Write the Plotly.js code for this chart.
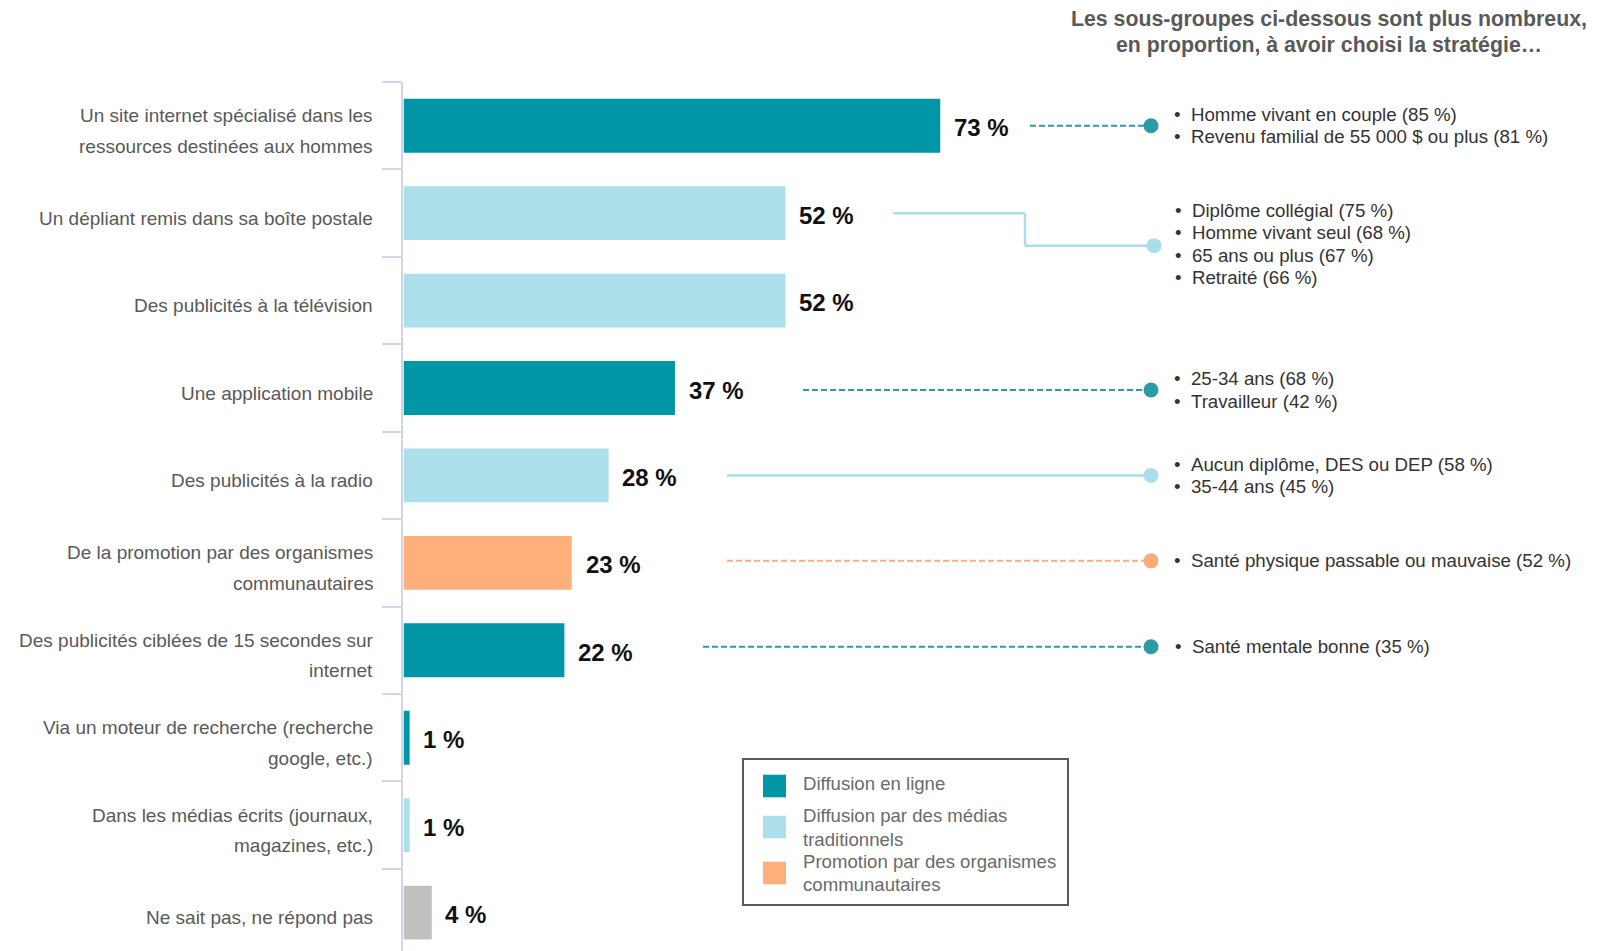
<!DOCTYPE html>
<html>
<head>
<meta charset="utf-8">
<script src="https://cdn.plot.ly/plotly-3.0.1.min.js"></script>
<style>html,body{margin:0;padding:0;background:#fff;}#chart{width:1604px;height:951px;}</style>
</head>
<body>
<div id="chart"></div>
<script>
// ---------- DATA ----------
const categories = [
  "Un site internet spécialisé dans les<br>ressources destinées aux hommes",
  "Un dépliant remis dans sa boîte postale",
  "Des publicités à la télévision",
  "Une application mobile",
  "Des publicités à la radio",
  "De la promotion par des organismes<br>communautaires",
  "Des publicités ciblées de 15 secondes sur<br>internet",
  "Via un moteur de recherche (recherche<br>google, etc.)",
  "Dans les médias écrits (journaux,<br>magazines, etc.)",
  "Ne sait pas, ne répond pas"
];
const values = [73, 52, 52, 37, 28, 23, 22, 1, 1, 4];
const groups = ["ligne", "trad", "trad", "ligne", "trad", "org", "ligne", "ligne", "trad", "nsp"];

const legendLabels = ["Diffusion en ligne", "Diffusion par des médias<br>traditionnels", "Promotion par des organismes<br>communautaires"];
const legendGroups = ["ligne", "trad", "org"];

const titleLines = ["Les sous-groupes ci-dessous sont plus nombreux,", "en proportion, à avoir choisi la stratégie…"];

const subgroupRows = [0, 1, 3, 4, 5, 6];
const subgroupLists = [
  ["Homme vivant en couple (85 %)", "Revenu familial de 55 000 $ ou plus (81 %)"],
  ["Diplôme collégial (75 %)", "Homme vivant seul (68 %)", "65 ans ou plus (67 %)", "Retraité (66 %)"],
  ["25-34 ans (68 %)", "Travailleur (42 %)"],
  ["Aucun diplôme, DES ou DEP (58 %)", "35-44 ans (45 %)"],
  ["Santé physique passable ou mauvaise (52 %)"],
  ["Santé mentale bonne (35 %)"]
];

// ---------- STYLE ----------
const barColors = { ligne: "#0096a6", trad: "#acdfe9", org: "#ffaf79", nsp: "#c0c0c0" };
const dotColors = { ligne: "#2b9ca7", trad: "#aadeea", org: "#ffab78", nsp: "#c0c0c0" };
const FONT = "Liberation Sans, Arial, sans-serif";

const L = 403, R = 1604, TOP = 82, BOT = 951;
const W = R - L, H = BOT - TOP;
const PXPER = 7.37;
const XMAX = W / PXPER;
const STEP = 87.43;
const YBOT = -0.5 + H / STEP;
const px2x = px => (px - L) / PXPER;
const xp = px => (px - L) / W;
const yp = py => (BOT - py) / H;

const annotations = [];
const shapes = [];

// title (two lines)
const titleY = [18.6, 45.3];
titleLines.forEach((t, j) => {
  annotations.push({
    xref: "paper", yref: "paper", x: xp(1329), y: yp(titleY[j]), xanchor: "center", yanchor: "middle",
    showarrow: false, text: "<b>" + t + "</b>",
    font: { family: FONT, size: 21.3, color: "#595959" }
  });
});

// category labels (one annotation per line to match spacing)
categories.forEach((c, i) => {
  const lines = c.split("<br>");
  const offs = lines.length === 1 ? [-5] : [10, -20.5];
  lines.forEach((ln, j) => {
    annotations.push({
      xref: "paper", yref: "y", x: 0, y: i, xanchor: "right", yanchor: "middle",
      xshift: -28, yshift: offs[j], showarrow: false, text: ln,
      font: { family: FONT, size: 19, color: "#595959" }
    });
  });
});

// value labels
values.forEach((v, i) => {
  annotations.push({
    xref: "x", yref: "y", x: v, y: i, xanchor: "left", yanchor: "middle",
    xshift: 11, yshift: -2, showarrow: false, text: "<b>" + v + " %</b>",
    font: { family: FONT, size: 24, color: "#111111" }
  });
});

// connectors + subgroup texts (dot offsets in px, positive = down)
const connStart = [1030, 893, 803, 727, 727, 703];
const dotShift = [0, 0, 2, 0, -2, -3.5];
const LINE_H = 22.3;
subgroupRows.forEach((row, k) => {
  const g = groups[row];
  const col = dotColors[g];
  const dash = g === "trad" ? "solid" : "6px,3px";
  const lw = g === "trad" ? 2.5 : 2;
  let dotY = row + dotShift[k] / STEP, dotX = 1151;
  if (k === 1) {
    dotY = row + 32.5 / STEP; dotX = 1154;
    shapes.push({ type: "line", xref: "x", yref: "y", x0: px2x(connStart[k]), x1: px2x(1025), y0: row, y1: row, line: { color: col, width: lw } });
    shapes.push({ type: "line", xref: "x", yref: "y", x0: px2x(1025), x1: px2x(1025), y0: row, y1: dotY, line: { color: col, width: lw } });
    shapes.push({ type: "line", xref: "x", yref: "y", x0: px2x(1025), x1: px2x(dotX), y0: dotY, y1: dotY, line: { color: col, width: lw } });
  } else {
    shapes.push({ type: "line", xref: "x", yref: "y", x0: px2x(connStart[k]), x1: px2x(dotX), y0: dotY, y1: dotY, line: { color: col, width: lw, dash: dash } });
  }
  shapes.push({
    type: "circle", xref: "x", yref: "y", xsizemode: "pixel", ysizemode: "pixel",
    xanchor: px2x(dotX), yanchor: dotY, x0: -7.5, x1: 7.5, y0: -7.5, y1: 7.5,
    fillcolor: col, line: { width: 0 }
  });
  const txX = (k === 1 || k === 5) ? 1173 : 1172;
  const items = subgroupLists[k];
  items.forEach((s, j) => {
    annotations.push({
      xref: "x", yref: "y", x: px2x(txX), y: dotY, xanchor: "left", yanchor: "middle",
      yshift: ((items.length - 1) / 2 - j) * LINE_H + (k === 1 ? 1.5 : 0),
      align: "left", showarrow: false,
      text: "•\u00a0\u00a0" + s,
      font: { family: FONT, size: 18.7, color: "#333333" }
    });
  });
});

// custom legend
shapes.push({ type: "rect", xref: "paper", yref: "paper", x0: xp(743), x1: xp(1068), y0: yp(759), y1: yp(905), line: { color: "#5a5a5a", width: 2 }, fillcolor: "rgba(0,0,0,0)" });
const legSqY = [786, 827, 873];
const legTxtY = [783, 827.5, 873];
const LEG_LH = 23.3;
legendGroups.forEach((g, i) => {
  shapes.push({ type: "rect", xref: "paper", yref: "paper", x0: xp(763), x1: xp(786), y0: yp(legSqY[i] - 11.3), y1: yp(legSqY[i] + 11.3), fillcolor: barColors[g], line: { width: 0 } });
  const lines = legendLabels[i].split("<br>");
  lines.forEach((ln, j) => {
    annotations.push({
      xref: "paper", yref: "paper", x: xp(801), y: yp(legTxtY[i]), xanchor: "left", yanchor: "middle",
      yshift: ((lines.length - 1) / 2 - j) * LEG_LH,
      align: "left", showarrow: false, text: ln,
      font: { family: FONT, size: 18.6, color: "#6a6a6a" }
    });
  });
});

const trace = {
  type: "bar", orientation: "h",
  x: values, y: categories.map((c, i) => i),
  marker: { color: groups.map(g => barColors[g]), line: { color: "#ffffff", width: 1.5 } },
  width: 0.633, hoverinfo: "x"
};

const layout = {
  width: 1604, height: 951,
  margin: { l: L, r: 0, t: TOP, b: 951 - BOT, pad: 0 },
  paper_bgcolor: "#ffffff", plot_bgcolor: "#ffffff",
  showlegend: false,
  xaxis: { range: [0, XMAX], showgrid: false, zeroline: false, showticklabels: false, showline: false, fixedrange: true },
  yaxis: {
    type: "linear", range: [YBOT, -0.5],
    showgrid: false, zeroline: false, showticklabels: false,
    tickmode: "array", tickvals: categories.map((c, i) => i - 0.5),
    ticks: "outside", ticklen: 19, tickwidth: 2, tickcolor: "#cfd6ea",
    showline: true, linecolor: "#cfd6ea", linewidth: 2, layer: "below traces"
  },
  annotations: annotations,
  shapes: shapes
};

Plotly.newPlot("chart", [trace], layout, { displayModeBar: false, staticPlot: true });
</script>
</body>
</html>
